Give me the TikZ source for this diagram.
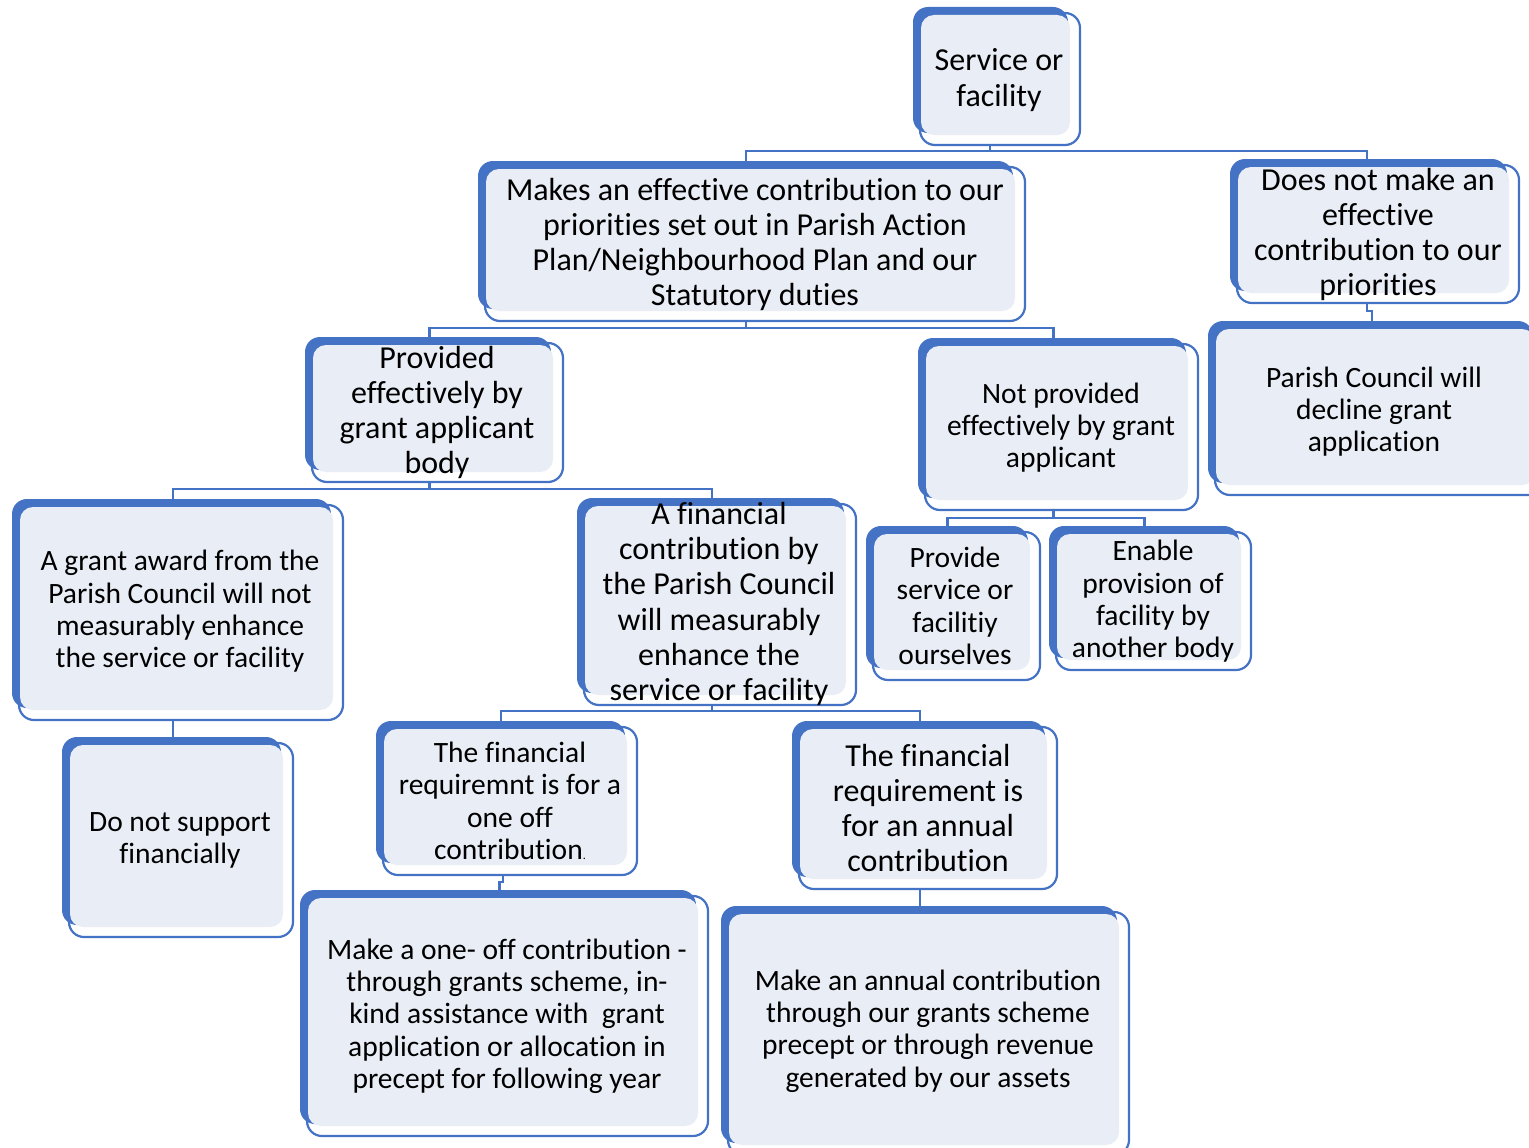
\documentclass[tikz,border=0pt]{standalone}
\usepackage{fontspec}
\setmainfont{Carlito}[Ligatures=NoCommon]
\usetikzlibrary{backgrounds}
\definecolor{bblue}{HTML}{4472C4}
\definecolor{lfill}{HTML}{E9EDF6}
\newcommand\bigf{\fontsize{32}{35.2}\selectfont}
\newcommand\smallf{\fontsize{29.5}{32.3}\selectfont}
\tikzset{
  obox/.style={draw=bblue, line width=2.2pt, fill=white, rounded corners=15pt, inner sep=0pt, outer sep=0pt},
  btxt/.style={align=center, inner sep=0pt, text=black, font=\bigf},
  stxt/.style={align=center, inner sep=0pt, text=black, font=\smallf},
  conn/.style={draw=bblue, line width=2.4pt}
}
% name, L, T, R, B, cx, cy, textstyle, text
\newcommand\gbox[9]{%
  \node[obox, anchor=north west, minimum width={#4-#2}, minimum height={#5-#3}] (#1) at (#2,#3) {};
  \fill[bblue, rounded corners=15pt] (#2-7,#3-6) rectangle (#4-12,#5-12);
  \fill[lfill, rounded corners=13pt] (#2+1,#3+2) rectangle (#4-10,#5-10);
  \node[#8] (#1-t) at (#6,#7) {#9};
}
\begin{document}
\begin{tikzpicture}[x=1pt,y=-1pt]
\useasboundingbox (0,0) rectangle (1529,1148);
\gbox{svc}{920}{13}{1080}{145}{999}{80}{btxt}{Service or\\facility}
\gbox{makes}{485}{167}{1025}{321}{755}{244.5}{btxt}{Makes an effective contribution to our\\priorities set out in Parish Action\\Plan/Neighbourhood Plan and our\\Statutory duties}
\gbox{dnm}{1237}{165}{1519}{303}{1378}{234.5}{btxt}{Does not make an\\effective\\contribution to our\\priorities}
\gbox{decl}{1215}{327}{1545}{495}{1374}{411.5}{stxt}{Parish Council will\\decline grant\\application}
\gbox{prov}{312}{343}{563}{482}{437}{412.5}{btxt}{Provided\\effectively by\\grant applicant\\body}
\gbox{notprov}{925}{344}{1198}{510}{1061}{427.5}{stxt}{Not provided\\effectively by grant\\applicant}
\gbox{grant}{19}{505}{343}{720}{180}{611.5}{stxt}{A grant award from the\\Parish Council will not\\measurably enhance\\the service or facility}
\gbox{fin}{584}{504}{856}{705}{719}{604}{btxt}{A financial\\contribution by\\the Parish Council\\will measurably\\enhance the\\service or facility}
\gbox{provide}{873}{532}{1040}{680}{955}{606}{stxt}{Provide\\service or\\facilitiy\\ourselves}
\gbox{enable}{1056}{532}{1251}{670}{1153}{601.5}{stxt}{Enable\\provision of\\facility by\\another body}
\gbox{dns}{69}{743}{293}{937}{180}{840.5}{stxt}{Do not support\\financially}
\gbox{oneoff}{383}{727}{637}{875}{510}{801}{stxt}{The financial\\requiremnt is for a\\one off\\contribution{\fontsize{12}{12}\selectfont.}}
\gbox{annreq}{799}{727}{1057}{889}{928}{808}{btxt}{The financial\\requirement is\\for an annual\\contribution}
\gbox{mkone}{307}{896}{708}{1136}{507}{1016}{stxt}{Make a one- off contribution -\\through grants scheme, in-\\kind assistance with~ grant\\application or allocation in\\precept for following year}
\gbox{mkann}{728}{912}{1129}{1155}{928}{1031}{stxt}{Make an annual contribution\\through our grants scheme\\precept or through revenue\\generated by our assets}
\begin{scope}[on background layer]
\draw[conn] ([xshift=-10pt]svc.south) -- ++(0,6) -| ([xshift=-9pt]makes.north);
\draw[conn] ([xshift=-10pt]svc.south) -- ++(0,6) -| ([xshift=-11pt]dnm.north);
\draw[conn] ([xshift=-11pt]dnm.south) -- ++(0,8) -| ([xshift=-8pt]decl.north);
\draw[conn] ([xshift=-9pt]makes.south) -- ++(0,7) -| ([xshift=-8pt]prov.north);
\draw[conn] ([xshift=-9pt]makes.south) -- ++(0,7) -| ([xshift=-8pt]notprov.north);
\draw[conn] ([xshift=-8pt]prov.south) -- ++(0,7) -| ([xshift=-8pt]grant.north);
\draw[conn] ([xshift=-8pt]prov.south) -- ++(0,7) -| ([xshift=-8pt]fin.north);
\draw[conn] ([xshift=-8pt]notprov.south) -- ++(0,8) -| ([xshift=-9pt]provide.north);
\draw[conn] ([xshift=-8pt]notprov.south) -- ++(0,8) -| ([xshift=-9pt]enable.north);
\draw[conn] ([xshift=-8pt]grant.south) -- ([xshift=-8pt]dns.north);
\draw[conn] ([xshift=-8pt]fin.south) -- ++(0,6) -| ([xshift=-9pt]oneoff.north);
\draw[conn] ([xshift=-8pt]fin.south) -- ++(0,6) -| ([xshift=-8pt]annreq.north);
\draw[conn] ([xshift=-7pt]oneoff.south) -- ++(0,7) -| ([xshift=-8pt]mkone.north);
\draw[conn] ([xshift=-8pt]annreq.south) -- ([xshift=-8pt]annreq.south |- mkann.north);
\end{scope}
\end{tikzpicture}
\end{document}
